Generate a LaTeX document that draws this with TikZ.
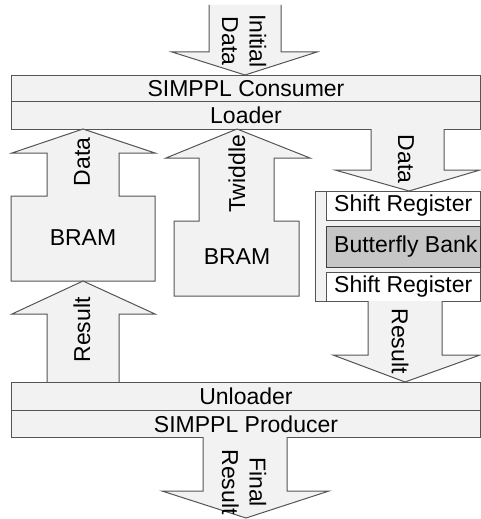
\documentclass[tikz,border=0pt]{standalone}
\usepackage{fontspec}
\setmainfont{Liberation Sans}
\definecolor{lightfill}{HTML}{F2F2F2}
\definecolor{bfgray}{HTML}{C6C6C6}
\definecolor{edge}{HTML}{555555}
\begin{document}
\begin{tikzpicture}[x=1pt,y=-1pt,
  font=\fontsize{23}{27.5}\selectfont,
  blk/.style={fill=lightfill,draw=edge,line width=1pt,line join=miter},
  box/.style={blk,rectangle,inner sep=0pt,anchor=north west},
  lbl/.style={inner sep=0pt,align=center},
  upl/.style={lbl,rotate=90},
  dnl/.style={lbl,rotate=-90}]
\useasboundingbox (0,0) rectangle (481,519);

% Initial Data arrow (open top)
\fill[lightfill] (209,5) -- (209,52) -- (172,52) -- (245,75) -- (317,52) -- (281,52) -- (281,5) -- cycle;
\draw[draw=edge,line width=1pt] (209,5) -- (209,52) -- (172,52) -- (245,75) -- (317,52) -- (281,52) -- (281,5);
\node[dnl] (initial) at (244,41) {Initial\\Data};

% Top bar
\node[box,minimum width=469pt,minimum height=26pt] (consumer) at (11,75) {SIMPPL Consumer};
\node[box,minimum width=469pt,minimum height=28pt] (loader) at (11,101) {Loader};

% Left BRAM with Data arrow
\draw[blk] (11,281) -- (11,196) -- (47,196) -- (47,153) -- (12,153) -- (83,129) -- (155,153) -- (119,153) -- (119,196) -- (155,196) -- (155,281) -- cycle;
\node[upl] (data1) at (82,162) {Data};
\node[lbl] (bram1) at (83,238) {BRAM};

% Middle BRAM with Twiddle arrow
\draw[blk] (174,296) -- (174,221) -- (199,221) -- (199,158) -- (166,158) -- (237,129) -- (310,158) -- (274,158) -- (274,221) -- (299,221) -- (299,296) -- cycle;
\node[upl] (twiddle) at (237,174) {Twiddle};
\node[lbl] (bram2) at (237,257) {BRAM};

% Left Result arrow
\draw[blk] (47,382) -- (47,314) -- (12,314) -- (83,281) -- (155,314) -- (119,314) -- (119,382);
\node[upl] (result1) at (82,330) {Result};

% Right Data arrow
\draw[blk] (371,129) -- (371,170) -- (335,170) -- (409,191) -- (480,170) -- (444,170) -- (444,129);
\node[dnl] (data2) at (406,159) {Data};

% Right stack
\node[box,minimum width=165pt,minimum height=110pt] (stack) at (315,191) {};
\node[box,fill=white,minimum width=154pt,minimum height=29pt] (sr1) at (326,191) {};
\node[box,fill=bfgray,draw=black!75,line width=1.2pt,minimum width=154pt,minimum height=41pt] (bf) at (326,226) {};
\node[box,fill=white,minimum width=154pt,minimum height=29pt] (sr2) at (326,272) {};
\node[lbl,anchor=west] (sr1t) at (334,205.5) {Shift Register};
\node[lbl,anchor=west] (bft) at (334,246.5) {Butterfly Bank};
\node[lbl,anchor=west] (sr2t) at (334,286.5) {Shift Register};

% Right Result arrow
\draw[blk] (368,301) -- (368,355) -- (333,355) -- (405,382) -- (480,355) -- (442,355) -- (442,301);
\node[dnl] (result2) at (400,341) {Result};

% Bottom bar
\node[box,minimum width=469pt,minimum height=28pt] (unloader) at (11,382) {Unloader};
\node[box,minimum width=469pt,minimum height=27pt] (producer) at (11,410) {SIMPPL Producer};

% Final Result arrow
\draw[blk] (203,437) -- (203,491) -- (162,491) -- (246,518) -- (329,491) -- (287,491) -- (287,437);
\node[dnl] (final) at (244,482) {Final\\Result};
\end{tikzpicture}
\end{document}
